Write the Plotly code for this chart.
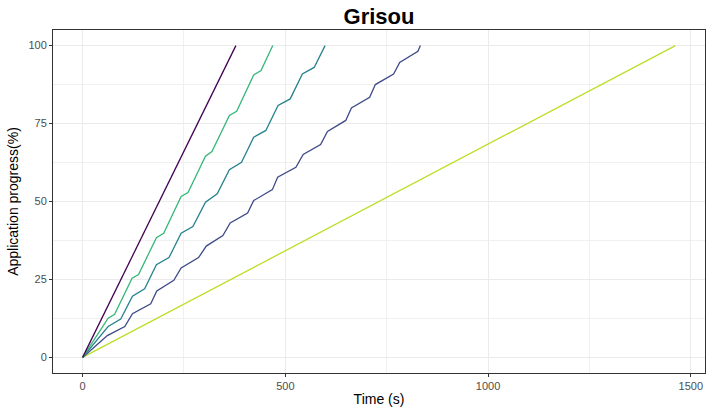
import plotly.graph_objects as go

# ---- data ----
purple_t = [0, 378]
purple_p = [0, 100]

green_t = [0, 63, 79, 122, 138, 182, 200, 243, 260, 303, 319, 362, 380, 422, 440, 469]
green_p = [0, 12.6, 13.8, 25.4, 26.6, 38.4, 39.8, 51.6, 52.9, 64.5, 66.0, 77.6, 78.9, 90.6, 92.0, 100]

teal_t = [0, 63, 94, 123, 153, 182, 213, 243, 272, 303, 332, 362, 392, 422, 452, 482, 512, 542, 571, 598]
teal_p = [0, 9.9, 12.3, 19.6, 22.0, 29.7, 32.0, 39.8, 42.0, 49.8, 52.5, 60.2, 62.6, 70.6, 72.8, 80.8, 82.9, 90.9, 93.0, 100]

blue_t = [0, 61, 104, 123, 168, 183, 225, 243, 286, 305, 346, 364, 407, 422, 468, 481,
          526, 544, 587, 604, 649, 663, 708, 722, 767, 782, 827, 833]
blue_p = [0, 7.0, 9.9, 14.0, 17.2, 21.3, 24.7, 28.7, 32.0, 35.7, 39.1, 43.1, 46.3, 50.3, 53.8, 57.8,
          61.0, 65.1, 68.3, 72.5, 76.0, 80.0, 83.4, 87.5, 90.9, 94.6, 98.2, 100]

yellow_t = [0, 1462]
yellow_p = [0, 100]

x_ticks = [0, 500, 1000, 1500]
y_ticks = [0, 25, 50, 75, 100]

series = [
    (yellow_t, yellow_p, "#BBDF27"),
    (blue_t, blue_p, "#3E4A89"),
    (teal_t, teal_p, "#26828E"),
    (green_t, green_p, "#35B779"),
    (purple_t, purple_p, "#440154"),
]

fig = go.Figure()
for t, p, c in series:
    fig.add_trace(go.Scatter(x=t, y=p, mode="lines",
                             line=dict(color=c, width=1.3),
                             showlegend=False, hoverinfo="skip"))

axis_common = dict(
    showline=True, mirror=True, linecolor="#333333", linewidth=1,
    ticks="outside", ticklen=3, tickcolor="#333333", tickwidth=1,
    tickfont=dict(family="Liberation Sans", size=11, color="#4D4D4D"),
    showgrid=True, gridcolor="#EBEBEB", gridwidth=1,
    zeroline=False, automargin=False,
)

fig.update_layout(
    width=706, height=410,
    margin=dict(l=53, r=1, t=30, b=37, autoexpand=False),
    paper_bgcolor="white", plot_bgcolor="white",
    title=dict(text="<b>Grisou</b>", x=(53 + 705) / 2 / 706, xanchor="center",
               y=1 - 16 / 410, yanchor="middle", automargin=False,
               font=dict(family="Liberation Sans Narrow, Liberation Sans", size=22, color="black")),
    xaxis=dict(range=[-73, 1535], tickvals=x_ticks,
               title=dict(text="Time (s)", standoff=2,
                          font=dict(family="Liberation Sans", size=14, color="black")),
               minor=dict(tickvals=[250, 750, 1250], showgrid=True,
                          gridcolor="#F0F0F0", gridwidth=0.7, ticks=""),
               **axis_common),
    yaxis=dict(range=[-5, 105], tickvals=y_ticks,
               title=dict(text="Application progress(%)", standoff=6,
                          font=dict(family="Liberation Sans", size=14, color="black")),
               minor=dict(tickvals=[12.5, 37.5, 62.5, 87.5], showgrid=True,
                          gridcolor="#F0F0F0", gridwidth=0.7, ticks=""),
               **axis_common),
)

fig.write_html("out.html",
               config={"displayModeBar": False},
               post_script="document.body.style.margin='0';document.body.style.padding='0';")
